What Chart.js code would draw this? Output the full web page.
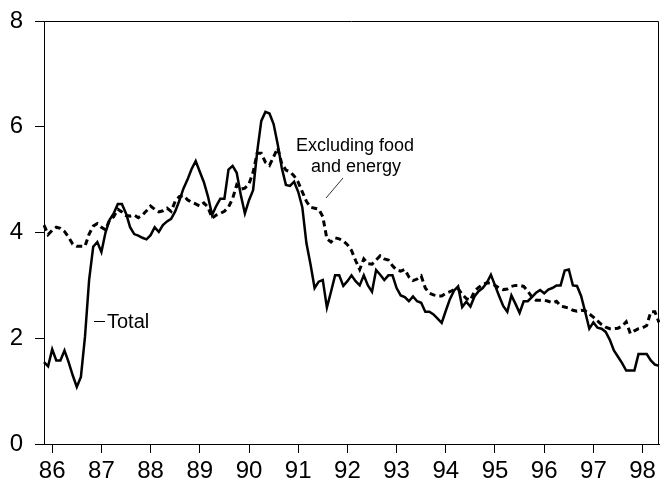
<!DOCTYPE html>
<html>
<head>
<meta charset="utf-8">
<script src="https://cdn.jsdelivr.net/npm/chart.js@4.4.1/dist/chart.umd.min.js"></script>
<style>
  html, body { margin: 0; padding: 0; background: #fff; }
  canvas { display: block; }
</style>
</head>
<body>
<canvas id="cpi-chart" width="660" height="489"></canvas>
<script>
// --- Data (12-month percent change, monthly) ---
const START_YEAR = 1986;
const START_MONTH = 4; // May, 0-based
const yearLabels = ['86', '87', '88', '89', '90', '91', '92', '93', '94', '95', '96', '97', '98'];
const yTicks = [0, 2, 4, 6, 8];

const totalCPI = [
  1.55, 1.47, 1.79, 1.58, 1.58, 1.77, 1.55, 1.30, 1.08, 1.27,
  2.03, 3.10, 3.73, 3.82, 3.63, 4.00, 4.24, 4.36, 4.54, 4.54,
  4.36, 4.10, 3.97, 3.94, 3.90, 3.87, 3.95, 4.10, 4.01, 4.14,
  4.21, 4.26, 4.40, 4.60, 4.83, 5.00, 5.20, 5.35, 5.15, 4.95,
  4.68, 4.33, 4.50, 4.64, 4.64, 5.19, 5.26, 5.13, 4.71, 4.36,
  4.61, 4.80, 5.53, 6.11, 6.28, 6.25, 6.05, 5.67, 5.22, 4.90,
  4.88, 4.96, 4.77, 4.48, 3.80, 3.40, 2.95, 3.07, 3.10, 2.58,
  2.88, 3.19, 3.19, 2.99, 3.08, 3.19, 3.08, 3.00, 3.19, 3.00,
  2.88, 3.29, 3.20, 3.10, 3.19, 3.19, 2.95, 2.81, 2.78, 2.70,
  2.79, 2.70, 2.67, 2.50, 2.50, 2.45, 2.37, 2.29, 2.52, 2.74,
  2.90, 2.98, 2.59, 2.69, 2.60, 2.79, 2.89, 2.95, 3.05, 3.20,
  3.00, 2.80, 2.61, 2.50, 2.81, 2.65, 2.48, 2.70, 2.70, 2.78,
  2.86, 2.91, 2.85, 2.92, 2.95, 3.00, 3.00, 3.28, 3.30, 3.00,
  2.99, 2.80, 2.50, 2.18, 2.30, 2.20, 2.18, 2.12, 1.97, 1.77,
  1.65, 1.53, 1.39, 1.39, 1.39, 1.70, 1.70, 1.70, 1.58, 1.50,
  1.48
];

const coreCPI = [
  4.14, 3.96, 4.04, 4.10, 4.08, 4.02, 3.91, 3.78, 3.74, 3.74,
  3.74, 3.97, 4.12, 4.17, 4.10, 4.05, 4.24, 4.30, 4.44, 4.39,
  4.32, 4.31, 4.33, 4.28, 4.33, 4.41, 4.50, 4.44, 4.39, 4.41,
  4.46, 4.40, 4.59, 4.68, 4.70, 4.62, 4.57, 4.54, 4.50, 4.56,
  4.48, 4.27, 4.33, 4.36, 4.40, 4.48, 4.64, 4.90, 4.82, 4.84,
  4.92, 5.14, 5.50, 5.50, 5.33, 5.27, 5.43, 5.60, 5.30, 5.18,
  5.15, 5.07, 4.95, 4.77, 4.59, 4.48, 4.46, 4.44, 4.30, 3.88,
  3.82, 3.90, 3.88, 3.84, 3.77, 3.66, 3.47, 3.30, 3.50, 3.41,
  3.40, 3.48, 3.56, 3.50, 3.48, 3.37, 3.29, 3.27, 3.30, 3.16,
  3.09, 3.12, 3.18, 2.95, 2.85, 2.82, 2.80, 2.80, 2.85, 2.88,
  2.92, 2.94, 2.83, 2.75, 2.72, 2.89, 2.96, 3.02, 3.05, 3.04,
  3.00, 2.95, 2.92, 2.93, 2.98, 3.00, 3.00, 2.98, 2.89, 2.78,
  2.72, 2.72, 2.72, 2.70, 2.67, 2.70, 2.61, 2.59, 2.57, 2.53,
  2.51, 2.53, 2.52, 2.46, 2.40, 2.33, 2.26, 2.21, 2.18, 2.18,
  2.19, 2.23, 2.31, 2.09, 2.14, 2.18, 2.20, 2.24, 2.50, 2.50,
  2.30
];

// month categories, one per observation
const months = totalCPI.map((_, i) => {
  const m = START_MONTH + i;
  return (START_YEAR + Math.floor(m / 12)) + '-' + String(m % 12 + 1).padStart(2, '0');
});

const FONT = '"Liberation Sans", Arial, sans-serif';

// box round the plot + text notes
const framePlugin = {
  id: 'frame',
  afterDraw(chart) {
    const { ctx, chartArea: a } = chart;
    ctx.save();
    ctx.strokeStyle = '#000';
    ctx.lineWidth = 1;
    ctx.beginPath();
    ctx.moveTo(Math.round(a.left) + 0.5, Math.round(a.top) + 0.5);
    ctx.lineTo(Math.round(a.right) - 0.5, Math.round(a.top) + 0.5);
    ctx.lineTo(Math.round(a.right) - 0.5, Math.round(a.bottom) + 0.5);
    ctx.stroke();

    // "Total" label
    ctx.fillStyle = '#000';
    ctx.font = '20px ' + FONT;
    ctx.textBaseline = 'alphabetic';
    ctx.textAlign = 'left';
    ctx.fillText('Total', 107, 328);
    ctx.beginPath();
    ctx.moveTo(94, 321.5);
    ctx.lineTo(105, 321.5);
    ctx.stroke();

    // "Excluding food and energy" label
    ctx.font = '18px ' + FONT;
    ctx.fillText('Excluding food', 296, 150.5);
    ctx.fillText('and energy', 311, 171.5);
    ctx.strokeStyle = '#333';
    ctx.beginPath();
    ctx.moveTo(343, 178);
    ctx.lineTo(326, 198);
    ctx.stroke();
    ctx.restore();
  }
};

new Chart(document.getElementById('cpi-chart'), {
  type: 'line',
  data: {
    labels: months,
    datasets: [
      {
        label: 'Excluding food and energy',
        data: coreCPI,
        borderColor: '#000',
        borderWidth: 3,
        borderDash: [6, 4],
        pointRadius: 0,
        tension: 0,
        fill: false
      },
      {
        label: 'Total',
        data: totalCPI,
        borderColor: '#000',
        borderWidth: 2.5,
        pointRadius: 0,
        tension: 0,
        fill: false
      }
    ]
  },
  options: {
    responsive: false,
    animation: false,
    devicePixelRatio: 1,
    layout: { padding: { top: 21, right: 1, left: 0, bottom: 0 } },
    plugins: {
      legend: { display: false },
      tooltip: { enabled: false }
    },
    scales: {
      x: {
        type: 'category',
        offset: false,
        afterFit(scale) {
          scale.height = 45;
          scale.paddingLeft = 0;
          scale.paddingRight = 0;
        },
        grid: { drawOnChartArea: false, drawTicks: true, tickLength: 9, color: '#000', lineWidth: 1 },
        border: { color: '#000', width: 1 },
        ticks: {
          autoSkip: false,
          maxRotation: 0,
          padding: 4,
          color: '#000',
          font: { family: FONT, size: 24 },
          callback: function(value, index) {
            const m = START_MONTH + index;
            if (m % 12 !== 6) return null;
            return yearLabels[Math.floor(m / 12)];
          }
        }
      },
      y: {
        min: yTicks[0],
        max: yTicks[yTicks.length - 1],
        afterFit(scale) {
          scale.width = 44;
          scale.paddingTop = 0;
          scale.paddingBottom = 0;
        },
        afterBuildTicks(scale) { scale.ticks = yTicks.map(v => ({ value: v })); },
        grid: { drawOnChartArea: false, drawTicks: true, tickLength: 9, color: '#000', lineWidth: 1 },
        border: { color: '#000', width: 1 },
        ticks: {
          padding: 12,
          color: '#000',
          font: { family: FONT, size: 24 }
        }
      }
    }
  },
  plugins: [framePlugin]
});
</script>
</body>
</html>
